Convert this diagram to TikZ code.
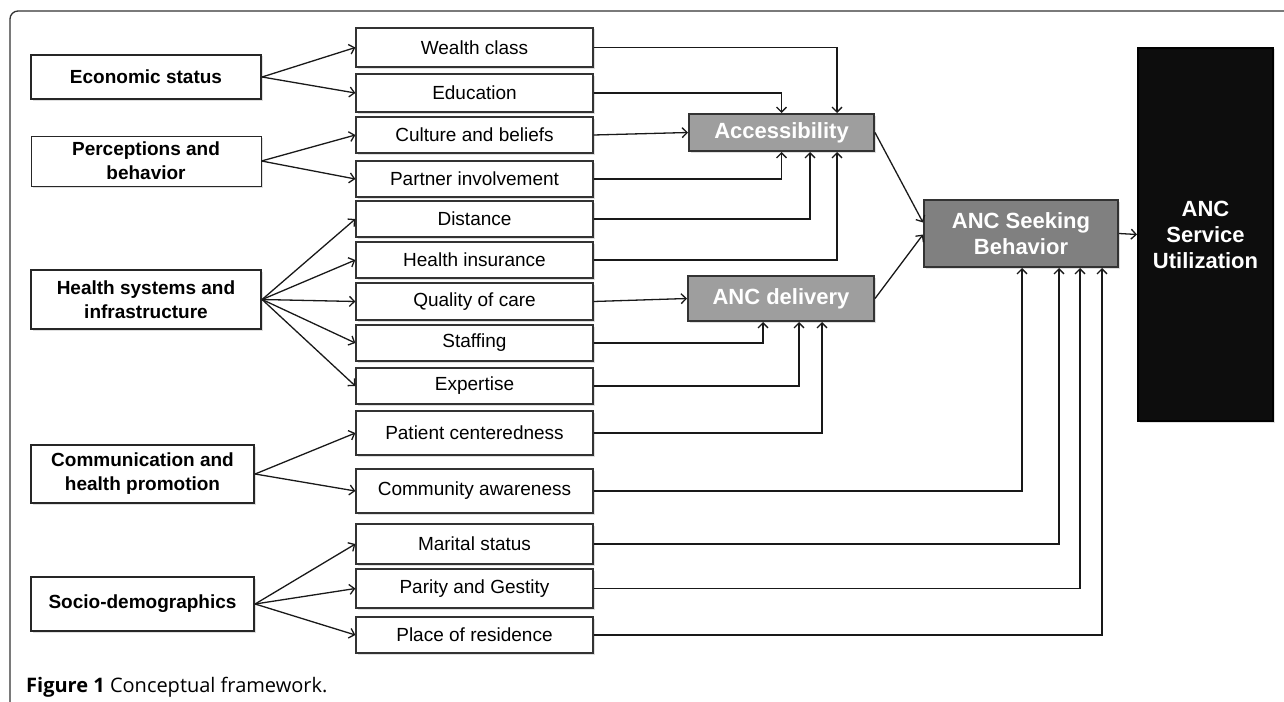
\documentclass[tikz,border=0pt]{standalone}
\usepackage{fontspec}
\setmainfont{Liberation Sans}
\newfontfamily\capfont{Open Sans}
\usetikzlibrary{arrows.meta,shadows}

\begin{document}
\begin{tikzpicture}[x=1pt,y=-1pt,
    >={Straight Barb[length=5pt,width=10pt]},
    boxshadow/.style={drop shadow={shadow xshift=1.5pt,shadow yshift=-1.5pt,opacity=0.25}},
    factor/.style={draw=black!85,line width=2.2pt,fill=white,align=center,inner sep=0pt,minimum width=230pt,font=\fontsize{19}{24}\selectfont\bfseries,boxshadow},
    item/.style={draw=black!80,line width=1.3pt,fill=white,inner sep=0pt,minimum width=237pt,font=\fontsize{19}{22}\selectfont,boxshadow},
    mid/.style={draw=black!80,line width=2pt,fill=black!38,text=white,align=center,inner sep=0pt,font=\fontsize{22}{26}\selectfont\bfseries,boxshadow},
    link/.style={->,line width=1.3pt,draw=black!90}]
  \useasboundingbox (0,0) rectangle (1284,701);
  % frame
  \draw[black!80,line width=1.3pt,rounded corners=8pt] (10,703) -- (10,11) -- (1286,11);

  % factors
  \node[factor,minimum height=44pt] (econ) at (146,77) {Economic status};
  \node[factor,minimum height=50pt,line width=1pt] (percep) at (146,161) {Perceptions and\\behavior};
  \node[factor,minimum height=59pt] (hsys) at (146,299.5) {Health systems and\\infrastructure};
  \node[factor,minimum height=58pt,minimum width=223pt] (comm) at (142.5,474) {Communication and\\health promotion};
  \node[factor,minimum height=54pt,minimum width=223pt] (socio) at (142.5,604) {Socio-demographics};

  % items
  \node[item,minimum height=39pt] (wealth) at (474.5,47.5) {Wealth class};
  \node[item,minimum height=38pt] (educ) at (474.5,93) {Education};
  \node[item,minimum height=36pt] (cult) at (474.5,135) {Culture and beliefs};
  \node[item,minimum height=36pt] (partner) at (474.5,179) {Partner involvement};
  \node[item,minimum height=36pt] (dist) at (474.5,219) {Distance};
  \node[item,minimum height=36pt] (insur) at (474.5,260) {Health insurance};
  \node[item,minimum height=37pt] (qual) at (474.5,301.5) {Quality of care};
  \node[item,minimum height=36pt] (staff) at (474.5,343) {Staffing};
  \node[item,minimum height=36pt] (expert) at (474.5,386) {Expertise};
  \node[item,minimum height=44pt] (patient) at (474.5,433) {Patient centeredness};
  \node[item,minimum height=44pt] (aware) at (474.5,491) {Community awareness};
  \node[item,minimum height=40pt] (marital) at (474.5,544) {Marital status};
  \node[item,minimum height=39pt] (parity) at (474.5,588.5) {Parity and Gestity};
  \node[item,minimum height=36pt] (resid) at (474.5,635) {Place of residence};

  % grey boxes
  \node[mid,minimum width=185pt,minimum height=37pt] (access) at (781.5,132.5) {Accessibility};
  \node[mid,minimum width=186pt,minimum height=45pt] (deliv) at (781,298.5) {ANC delivery};
  \node[mid,fill=black!50,minimum width=194pt,minimum height=67pt] (seek) at (1021,233.5) {ANC Seeking\\Behavior};
  \node[mid,fill=black!95,draw=black,minimum width=135pt,minimum height=373pt] (util) at (1205.5,234.5) {ANC\\Service\\Utilization};

  % fans
  \draw[link] (econ.east) -- (wealth.west);
  \draw[link] (econ.east) -- (educ.west);
  \draw[link] (percep.east) -- (cult.west);
  \draw[link] (percep.east) -- (partner.west);
  \draw[link] (hsys.east) -- (dist.west);
  \draw[link] (hsys.east) -- (insur.west);
  \draw[link] (hsys.east) -- (qual.west);
  \draw[link] (hsys.east) -- (staff.west);
  \draw[link] (hsys.east) -- (expert.west);
  \draw[link] (comm.east) -- (patient.west);
  \draw[link] (comm.east) -- (aware.west);
  \draw[link] (socio.east) -- (marital.west);
  \draw[link] (socio.east) -- (parity.west);
  \draw[link] (socio.east) -- (resid.west);

  % into accessibility
  \draw[link] (wealth.east) -| ([xshift=55.5pt]access.north);
  \draw[link] (educ.east) -| (access.north);
  \draw[link] (cult.east) -- (access.west);
  \draw[link] (partner.east) -| (access.south);
  \draw[link] (dist.east) -| ([xshift=28.5pt]access.south);
  \draw[link] (insur.east) -| ([xshift=55.5pt]access.south);

  % into delivery
  \draw[link] (qual.east) -- (deliv.west);
  \draw[link] (staff.east) -| ([xshift=-18pt]deliv.south);
  \draw[link] (expert.east) -| ([xshift=18pt]deliv.south);
  \draw[link] (patient.east) -| ([xshift=41pt]deliv.south);

  % into seeking
  \draw[link] (access.east) -- ([yshift=11pt]seek.west);
  \draw[link] (deliv.east) -- ([yshift=-1pt]seek.west);
  \draw[link] (aware.east) -| ([xshift=1pt]seek.south);
  \draw[link] (marital.east) -| ([xshift=38pt]seek.south);
  \draw[link] (parity.east) -| ([xshift=59pt]seek.south);
  \draw[link] (resid.east) -| ([xshift=81pt]seek.south);
  \draw[link] (seek.east) -- (util.west);

  \node[anchor=base west,inner sep=0pt,font=\capfont\fontsize{20}{24}\selectfont] (caption) at (26,692) {\textbf{Figure 1} Conceptual framework.};
\end{tikzpicture}
\end{document}
